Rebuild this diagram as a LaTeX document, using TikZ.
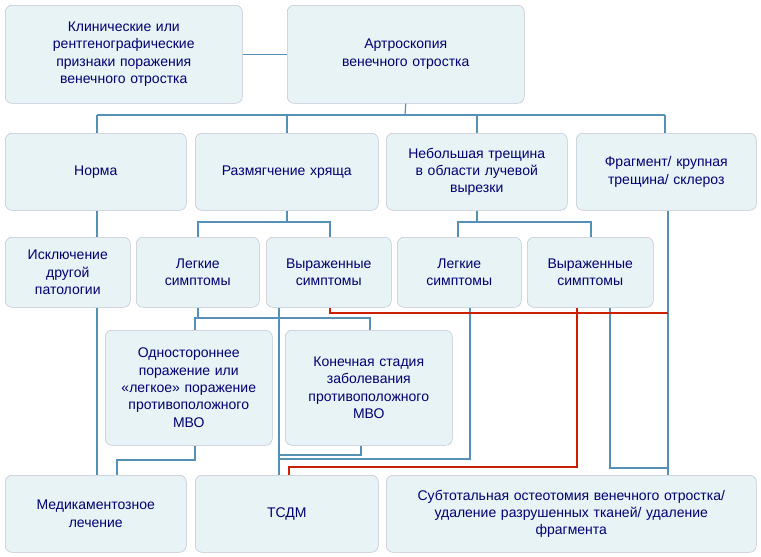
\documentclass[tikz,border=0pt]{standalone}
\usepackage{fontspec}
\setmainfont{Liberation Sans}
\begin{document}
\begin{tikzpicture}[x=0.75pt,y=-0.75pt,
 box/.style={draw=black!8!blue!20!gray!40, fill=blue!10!cyan!6!white!92!gray, rounded corners=5pt, align=center, text=blue!45!black, font=\fontsize{10.5}{13}\selectfont, inner sep=2pt, anchor=north west},
 ln/.style={draw=blue!40!cyan!40!gray!95, line width=0.9pt},
 rd/.style={draw=red!70!orange!80!black, line width=0.9pt}]
\useasboundingbox[fill=white] (0,0) rectangle (761,557);
\newcommand\bx[6]{\node[box,minimum width=#4*0.75pt,minimum height=#5*0.75pt,text width=#4*0.75pt-8pt] (#1) at (#2,#3) {#6};}
\bx{A}{5}{5}{237}{98}{Клинические или\\рентгенографические\\признаки поражения\\венечного отростка}
\bx{B}{287}{5}{237}{98}{Артроскопия\\венечного отростка}
\bx{N}{5}{133}{181}{77}{Норма}
\bx{R}{195}{133}{183}{77}{Размягчение хряща}
\bx{T}{386}{133}{181}{77}{Небольшая трещина\\в области лучевой\\вырезки}
\bx{F}{576}{133}{180}{77}{Фрагмент/ крупная\\трещина/ склероз}
\bx{I}{5}{237}{125}{70}{Исключение\\другой\\патологии}
\bx{L1}{136}{237}{123}{70}{Легкие\\симптомы}
\bx{V1}{266}{237}{125}{70}{Выраженные\\симптомы}
\bx{L2}{397}{237}{124}{70}{Легкие\\симптомы}
\bx{V2}{527}{237}{126}{70}{Выраженные\\симптомы}
\bx{O}{105}{330}{167}{115}{Одностороннее\\поражение или\\«легкое» поражение\\противоположного\\МВО}
\bx{K}{285}{330}{167}{115}{Конечная стадия\\заболевания\\противоположного\\МВО}
\bx{M}{5}{475}{181}{77}{Медикаментозное\\лечение}
\bx{S}{195}{475}{183}{77}{ТСДМ}
\bx{U}{386}{475}{370}{77}{Субтотальная остеотомия венечного отростка/\\удаление разрушенных тканей/ удаление\\фрагмента}
% connectors
\draw[ln] (A.east) -- (B.west);
\draw[ln] (B.south) -- (405,115);
\draw[ln] (97,115) -- (665,115);
\draw[ln] (97,115) -- (N.north -| 97,0);
\draw[ln] (287,115) -- (R.north -| 287,0);
\draw[ln] (477,115) -- (T.north -| 477,0);
\draw[ln] (665,115) -- (F.north -| 665,0);
\draw[ln] (N.south -| 97,0) -- (I.north -| 97,0);
\draw[ln] (I.south -| 97,0) -- (M.north -| 97,0);
\draw[ln] (R.south -| 287,0) -- (287,222);
\draw[ln] (198,237) |- (330,222) -- (V1.north -| 330,0);
\draw[ln] (T.south -| 477,0) -- (477,222);
\draw[ln] (458,237) |- (591,222) -- (V2.north -| 591,0);
\draw[ln] (F.south -| 668,0) -- (U.north -| 668,0);
\draw[ln] (L1.south -| 198,0) -- (198,318);
\draw[ln] (195,330) |- (370,318) -- (K.north -| 370,0);
\draw[ln] (V1.south -| 279,0) -- (S.north -| 279,0);
\draw[ln] (K.south -| 361,0) |- (279,455);
\draw[ln] (O.south -| 195,0) |- (117,460) -- (M.north -| 117,0);
\draw[ln] (L2.south -| 470,0) |- (279,459);
\draw[ln] (V2.south -| 610,0) |- (668,468);
\draw[rd] (V1.south -| 330,0) |- (668,313);
\draw[rd] (V2.south -| 577,0) |- (289,467) -- (S.north -| 289,0);
\end{tikzpicture}
\end{document}
